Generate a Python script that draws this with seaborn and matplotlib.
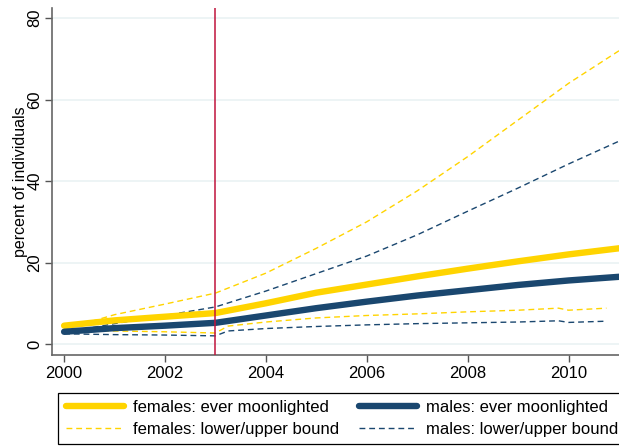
import numpy as np
import pandas as pd
import matplotlib
matplotlib.use('Agg')
import matplotlib.pyplot as plt
import seaborn as sns


# ============================================
# Data
# ============================================
years = [2000, 2001, 2002, 2003, 2004, 2005, 2006, 2007, 2008, 2009, 2010, 2011]

fem_ever   = [4.5, 5.8, 6.7, 7.6, 10.0, 12.6, 14.6, 16.6, 18.5, 20.3, 22.0, 23.5]
male_ever  = [3.0, 3.9, 4.5, 5.2, 7.0, 8.8, 10.4, 11.9, 13.2, 14.5, 15.6, 16.5]
fem_upper  = [3.6, 7.2, 9.8, 12.5, 17.4, 23.5, 30.0, 37.6, 46.0, 55.0, 64.0, 72.0]
male_upper = [2.8, 5.0, 7.0, 9.1, 13.0, 17.3, 21.6, 26.8, 32.6, 38.3, 44.2, 49.8]

low_years  = [2000, 2001, 2002, 2003, 2003.25, 2004, 2005, 2006, 2007, 2008,
              2009, 2009.8, 2010, 2010.75]
fem_lower  = [3.4, 3.2, 3.0, 2.7, 4.4, 5.4, 6.4, 7.0, 7.4, 7.9,
              8.3, 8.8, 8.3, 8.8]
male_lower = [2.5, 2.3, 2.2, 2.0, 3.2, 3.8, 4.3, 4.7, 5.0, 5.2,
              5.4, 5.7, 5.3, 5.6]

policy_year = 2003
y_ticks = [0, 20, 40, 60, 80]
x_ticks = [2000, 2002, 2004, 2006, 2008, 2010]

GOLD = '#FFD400'
NAVY = '#1A476F'
RED  = '#C0143C'


# ============================================
# Plot
# ============================================
sns.set_style('white')
plt.rcParams['font.family'] = ['Liberation Sans', 'DejaVu Sans']
plt.rcParams['text.color'] = 'black'
plt.rcParams['xtick.color'] = 'black'
plt.rcParams['ytick.color'] = 'black'
plt.rcParams['axes.labelcolor'] = 'black'

fig = plt.figure(figsize=(6.19, 4.47), dpi=100)
ax = fig.add_axes([52 / 619, (447 - 355) / 447, 567 / 619, 347 / 447])

for yv in y_ticks:
    ax.axhline(yv, color='#EAF2F3', lw=1.2, zorder=0)

dash = (0, (4.2, 2.8))
sns.lineplot(x=years, y=fem_upper, ax=ax, color=GOLD, lw=1.0,
             linestyle=dash, label='females: lower/upper bound')
sns.lineplot(x=low_years, y=fem_lower, ax=ax, color=GOLD, lw=1.0,
             linestyle=dash)
sns.lineplot(x=years, y=male_upper, ax=ax, color=NAVY, lw=1.0,
             linestyle=dash, label='males: lower/upper bound')
sns.lineplot(x=low_years, y=male_lower, ax=ax, color=NAVY, lw=1.0,
             linestyle=dash)
sns.lineplot(x=years, y=fem_ever, ax=ax, color=GOLD, lw=4.6,
             label='females: ever moonlighted')
sns.lineplot(x=years, y=male_ever, ax=ax, color=NAVY, lw=4.6,
             label='males: ever moonlighted')

ax.axvline(policy_year, color=RED, lw=1.1, zorder=5)

ax.set_xlim(1999.76, 2011.0)
ax.set_ylim(-2.7, 82.5)
ax.set_xticks(x_ticks)
ax.set_yticks(y_ticks)
ax.set_yticklabels([str(v) for v in y_ticks], rotation=90, va='center')
ax.tick_params(axis='both', labelsize=12, length=5, width=1,
               color='#555555', direction='out', left=True, bottom=True)
ax.tick_params(axis='y', pad=2)
ax.tick_params(axis='x', pad=3)
ax.set_ylabel('percent of individuals', fontsize=11.5)
ax.yaxis.set_label_coords(-0.043, 0.5)
ax.set_xlabel('')

for side in ['top', 'right']:
    ax.spines[side].set_visible(False)
for side in ['left', 'bottom']:
    ax.spines[side].set_color('#666666')
    ax.spines[side].set_linewidth(1.2)

# legend: gold solid / gold dashed in column 1, navy in column 2
handles, labels = ax.get_legend_handles_labels()
order = [labels.index(l) for l in ['females: ever moonlighted',
                                   'females: lower/upper bound',
                                   'males: ever moonlighted',
                                   'males: lower/upper bound']]
ax.legend([handles[i] for i in order], [labels[i] for i in order],
          ncol=2, loc='upper left',
          bbox_to_anchor=(58 / 619, (447 - 392.5) / 447),
          bbox_transform=fig.transFigure, borderaxespad=0,
          fontsize=12, handlelength=3.5, handletextpad=0.54,
          columnspacing=1.2, labelspacing=0.4, borderpad=0.45,
          frameon=True, fancybox=False, edgecolor='black', framealpha=1)
ax.get_legend().get_frame().set_linewidth(0.9)

plt.savefig('out.png', dpi=100)
plt.close()
